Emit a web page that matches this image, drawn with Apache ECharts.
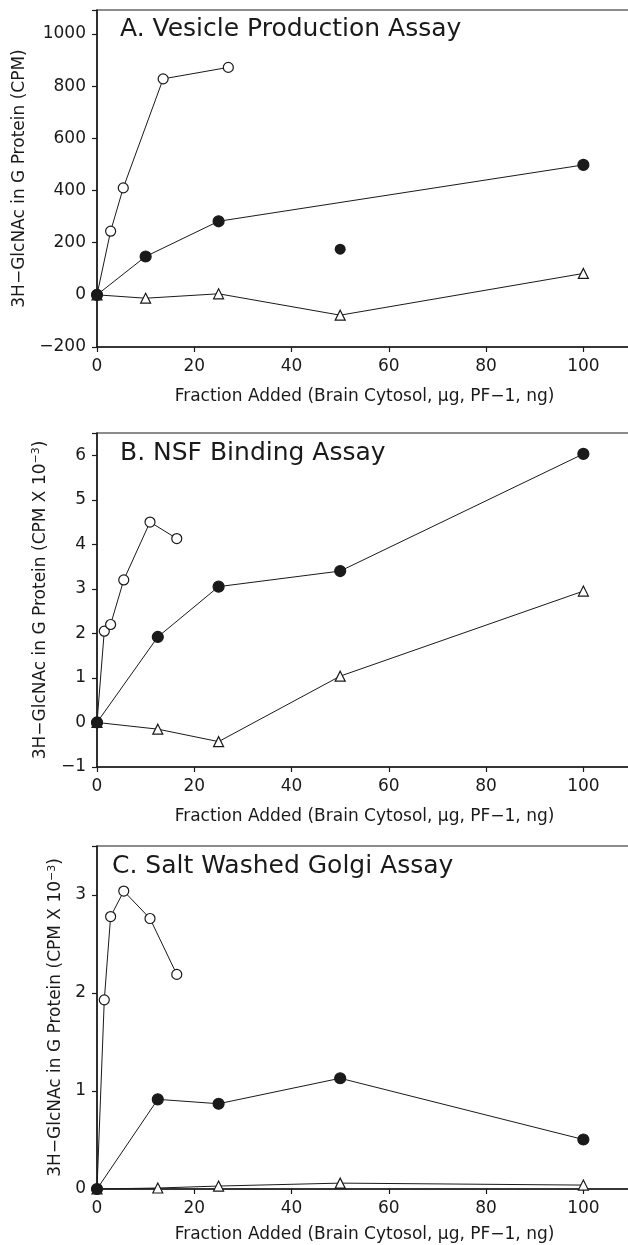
<!DOCTYPE html>
<html>
<head>
    <meta charset="utf-8">
    <title>G Protein assays</title>
    <script src="https://cdn.jsdelivr.net/npm/echarts@6/dist/echarts.min.js"></script>
    <style>
        html, body { margin: 0; padding: 0; background: #fff; }
    </style>
</head>
<body>
<div id="main" style="width: 628px;height:1245px;"></div>
<script type="text/javascript">
    // x tick labels (shared by the three panels)
    const xTicks = [0, 20, 40, 60, 80, 100];

    // A. Vesicle Production Assay (CPM)
    const aOpenX = [0, 2.8, 5.4, 13.6, 27];
    const aOpenY = [0, 244, 410, 828, 872];
    const aFilledX = [0, 10, 25, 100];
    const aFilledY = [0, 147, 282, 498];
    const aLoneX = [50];
    const aLoneY = [175];
    const aTriX = [0, 10, 25, 50, 100];
    const aTriY = [0, -13, 4, -78, 82];

    // B. NSF Binding Assay (CPM x 10^-3)
    const bOpenX = [0, 1.5, 2.8, 5.5, 10.9, 16.4];
    const bOpenY = [0, 2.05, 2.2, 3.2, 4.5, 4.13];
    const bFilledX = [0, 12.5, 25, 50, 100];
    const bFilledY = [0, 1.92, 3.05, 3.4, 6.03];
    const bTriX = [0, 12.5, 25, 50, 100];
    const bTriY = [0, -0.15, -0.43, 1.04, 2.95];

    // C. Salt Washed Golgi Assay (CPM x 10^-3)
    const cOpenX = [0, 1.5, 2.8, 5.5, 10.9, 16.4];
    const cOpenY = [0, 1.93, 2.78, 3.04, 2.76, 2.19];
    const cFilledX = [0, 12.5, 25, 50, 100];
    const cFilledY = [0, 0.915, 0.87, 1.13, 0.505];
    const cTriX = [0, 12.5, 25, 50, 100];
    const cTriY = [0, 0.01, 0.03, 0.06, 0.04];

    const FONT = 'DejaVu Sans';
    const INK = '#1a1a1a';

    function pairs(xs, ys) {
        return xs.map(function (x, i) { return [x, ys[i]]; });
    }

    function xAxisFor(idx, gap) {
        return {
            type: 'value', gridIndex: idx, min: 0, max: 110, interval: 20,
            name: 'Fraction Added (Brain Cytosol, \u03bcg, PF\u22121, ng)',
            nameLocation: 'middle', nameGap: gap,
            nameTextStyle: { fontFamily: FONT, fontSize: 17, color: INK },
            axisLine: { onZero: false, lineStyle: { color: INK, width: 1.5 } },
            axisTick: { length: 5, lineStyle: { color: INK, width: 1.2 } },
            axisLabel: {
                fontFamily: FONT, fontSize: 17, color: INK, margin: 11,
                formatter: function (v) { return xTicks.indexOf(v) >= 0 ? String(v) : ''; }
            },
            splitLine: { show: false }
        };
    }

    function yAxisFor(idx, min, max, interval, top, name, gap) {
        return {
            type: 'value', gridIndex: idx, min: min, max: max, interval: interval,
            name: name, nameLocation: 'middle', nameGap: gap, nameRotate: 90,
            nameTextStyle: {
                fontFamily: FONT, fontSize: 17, color: INK,
                rich: { sup: { fontFamily: FONT, fontSize: 11, color: INK, verticalAlign: 'top', padding: [0, 0, 8, 0] } }
            },
            axisLine: { onZero: false, lineStyle: { color: INK, width: 1.5 } },
            axisTick: { length: 5, lineStyle: { color: INK, width: 1.2 } },
            axisLabel: {
                fontFamily: FONT, fontSize: 17, color: INK, margin: 11,
                formatter: function (v) { return v > top ? '' : String(v).replace('-', '\u2212'); }
            },
            splitLine: { show: false }
        };
    }

    function lineSeries(idx, data, symbol, size, fill) {
        return {
            type: 'line', xAxisIndex: idx, yAxisIndex: idx, data: data,
            symbol: symbol, symbolSize: size, showAllSymbol: true,
            lineStyle: { color: INK, width: 1 },
            itemStyle: { color: fill, borderColor: INK, borderWidth: 1.2, opacity: 1 },
            animation: false
        };
    }

    let myChart = echarts.init(document.getElementById('main'));

    myChart.setOption({
        backgroundColor: '#fff',
        title: [
            { text: 'A. Vesicle Production Assay', left: 120, top: 17 },
            { text: 'B. NSF Binding Assay', left: 120, top: 441 },
            { text: 'C. Salt Washed Golgi Assay', left: 112, top: 854 }
        ].map(function (t) {
            t.textStyle = { fontFamily: FONT, fontSize: 25, fontWeight: 'normal', color: INK };
            t.padding = 0;
            return t;
        }),
        grid: [
            { left: 97, top: 10, width: 535, height: 337 },
            { left: 97, top: 433, width: 535, height: 334 },
            { left: 97, top: 846, width: 535, height: 343 }
        ].map(function (g) {
            g.show = true; g.borderColor = INK; g.borderWidth = 1.2;
            g.outerBoundsMode = 'none';
            return g;
        }),
        xAxis: [xAxisFor(0, 41), xAxisFor(1, 41), xAxisFor(2, 37)],
        yAxis: [
            yAxisFor(0, -200, 1092, 200, 1000, '3H\u2212GlcNAc in G Protein (CPM)', 67),
            yAxisFor(1, -1, 6.5, 1, 6, '3H\u2212GlcNAc in G Protein (CPM X 10{sup|\u22123})', 47),
            yAxisFor(2, 0, 3.5, 1, 3, '3H\u2212GlcNAc in G Protein (CPM X 10{sup|\u22123})', 31)
        ],
        series: [
            lineSeries(0, pairs(aOpenX, aOpenY), 'circle', 10, '#fff'),
            lineSeries(0, pairs(aTriX, aTriY), 'triangle', 10, '#fff'),
            lineSeries(0, pairs(aFilledX, aFilledY), 'circle', 11, INK),
            {
                type: 'scatter', xAxisIndex: 0, yAxisIndex: 0, data: pairs(aLoneX, aLoneY),
                symbol: 'circle', symbolSize: 11, itemStyle: { color: INK, opacity: 1 }, animation: false
            },
            lineSeries(1, pairs(bOpenX, bOpenY), 'circle', 10, '#fff'),
            lineSeries(1, pairs(bTriX, bTriY), 'triangle', 10, '#fff'),
            lineSeries(1, pairs(bFilledX, bFilledY), 'circle', 11, INK),
            lineSeries(2, pairs(cOpenX, cOpenY), 'circle', 10, '#fff'),
            lineSeries(2, pairs(cTriX, cTriY), 'triangle', 10, '#fff'),
            lineSeries(2, pairs(cFilledX, cFilledY), 'circle', 11, INK)
        ]
    });
</script>
</body>
</html>
